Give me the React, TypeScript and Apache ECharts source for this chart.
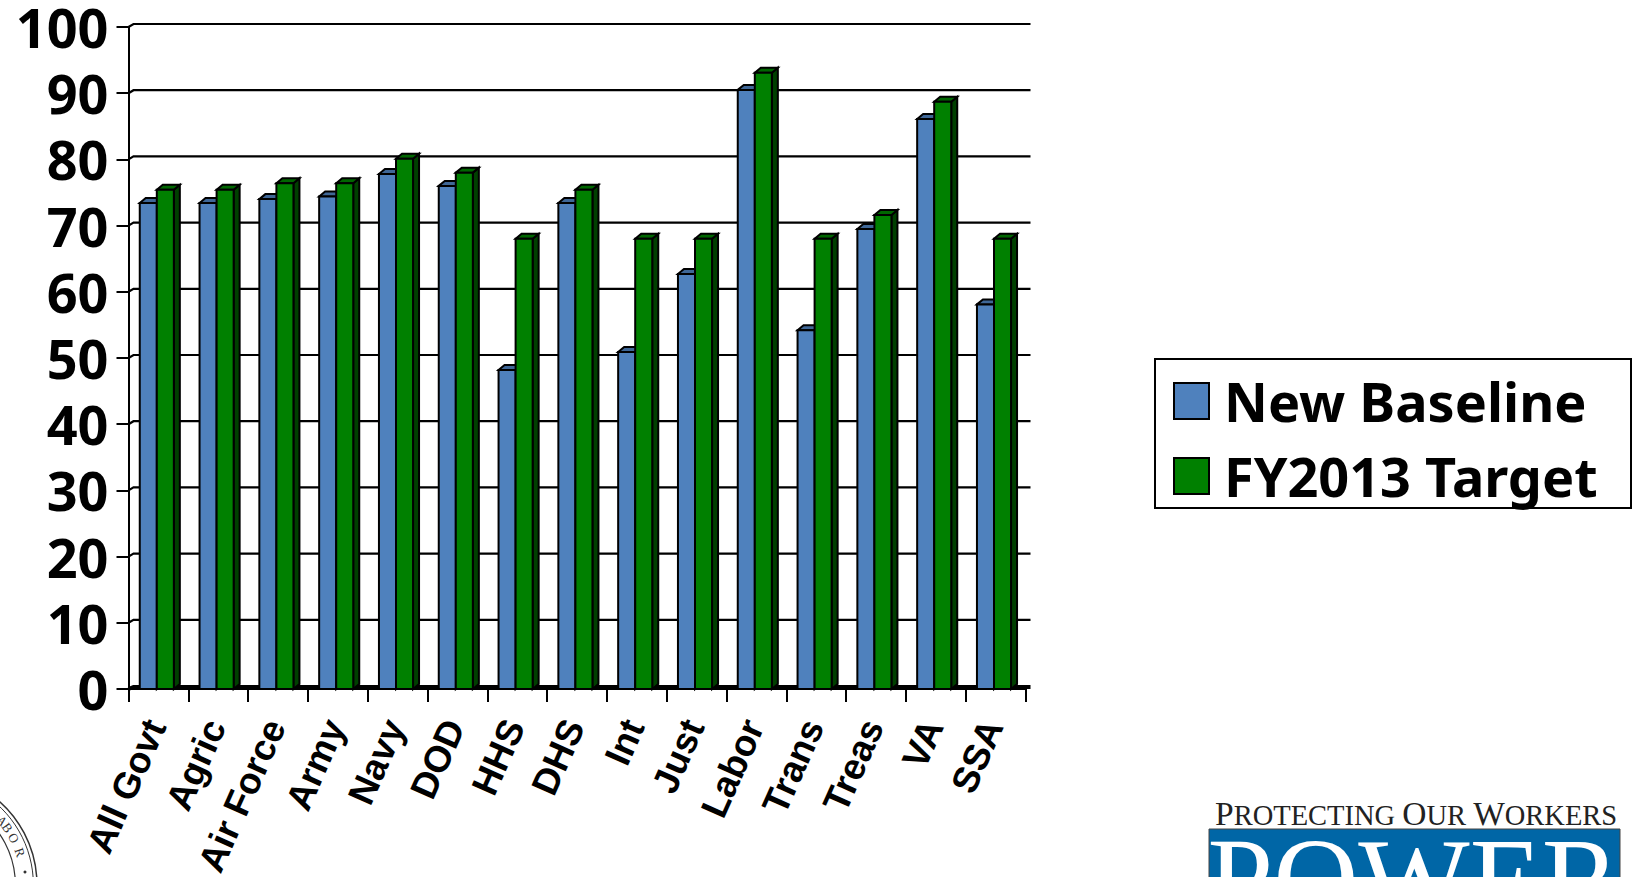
import React, { useEffect, useRef } from "react";
import * as echarts from "echarts";

const categories = ["All Govt", "Agric", "Air Force", "Army", "Navy", "DOD", "HHS", "DHS", "Int", "Just", "Labor", "Trans", "Treas", "VA", "SSA"];
const newBaseline = [73.4, 73.4, 74, 74.4, 77.8, 76, 48.2, 73.4, 50.9, 62.7, 90.5, 54.2, 69.5, 86.1, 58.1];
const fy2013Target = [75.4, 75.4, 76.4, 76.4, 80.1, 78, 68, 75.4, 68, 68, 93.1, 68, 71.6, 88.7, 68];
const gridValues = [0, 10, 20, 30, 40, 50, 60, 70, 80, 90, 100];
const sealLetters = [["A", 40], ["B", 35], ["O", 28], ["R", 19]] as [string, number][];

const BLUE = "#4f81bd";
const GREEN = "#008000";
const DEPTH_X = 6;
const DEPTH_Y = 5;
const WALL_X = 5;
const WALL_Y = 3;
const SEAL_X = -74.6;
const SEAL_Y = 885;

function shade(hex: string, f: number) {
  const n = parseInt(hex.slice(1), 16);
  const c = [(n >> 16) & 255, (n >> 8) & 255, n & 255].map((v) => Math.round(v * f));
  return `rgb(${c[0]},${c[1]},${c[2]})`;
}

// A bar with a lit top face and a darkened side face, placed by the chart's own scales.
function barRenderer(slot: number, color: string) {
  return (_: any, api: any) => {
    const top = api.coord([api.value(0), api.value(1)]);
    const base = api.coord([api.value(0), 0]);
    const band = api.size([1, 0])[0];
    const w = band * 0.285;
    const x0 = top[0] - w + slot * w - 1.6;
    const x1 = x0 + w;
    const line = { stroke: "#000", lineWidth: 2 };
    return {
      type: "group",
      children: [
        { type: "polygon", shape: { points: [[x1, top[1]], [x1 + DEPTH_X, top[1] - DEPTH_Y], [x1 + DEPTH_X, base[1] - DEPTH_Y], [x1, base[1]]] }, style: { fill: shade(color, 0.5), ...line } },
        { type: "polygon", shape: { points: [[x0, top[1]], [x0 + DEPTH_X, top[1] - DEPTH_Y], [x1 + DEPTH_X, top[1] - DEPTH_Y], [x1, top[1]]] }, style: { fill: shade(color, 0.8), ...line } },
        { type: "rect", shape: { x: x0, y: top[1], width: w, height: base[1] - top[1] }, style: { fill: color, ...line } },
      ],
    };
  };
}

// Back-wall gridlines, stepped up and to the right of the axis ticks; the floor is heavier.
function wallLine(params: any, api: any) {
  const p = api.coord([0, api.value(1)]);
  const cs = params.coordSys;
  const left = cs.x;
  const right = cs.x + cs.width + WALL_X;
  const isFloor = api.value(1) === 0;
  const rise = isFloor ? 2 : WALL_Y;
  return {
    type: "polyline",
    shape: { points: [[left, p[1]], [left + WALL_X, p[1] - rise], [right, p[1] - rise]] },
    style: { stroke: "#000", lineWidth: isFloor ? 4 : 2.2, fill: "none" },
  };
}

const FONT = "'Noto Sans'";

export default function App() {
  const ref = useRef<HTMLDivElement>(null);
  useEffect(() => {
    const chart = echarts.init(ref.current!, undefined, { renderer: "svg" });
    const sealText = sealLetters.map(([ch, deg]) => {
      const a = (deg * Math.PI) / 180;
      return {
        type: "text",
        x: SEAL_X + 100 * Math.cos(a),
        y: SEAL_Y - 100 * Math.sin(a),
        rotation: -((90 - deg) * Math.PI) / 180,
        style: { text: ch, fill: "#333", align: "center", verticalAlign: "middle", font: "13px 'Liberation Serif'" },
      };
    });
    chart.setOption({
      animation: false,
      backgroundColor: "#fff",
      grid: { left: 128.5, top: 27, width: 897, height: 662, containLabel: false, outerBoundsMode: "none" },
      xAxis: {
        type: "category",
        data: categories,
        axisLine: { lineStyle: { color: "#000", width: 2 } },
        axisTick: { show: true, length: 13, lineStyle: { color: "#000", width: 2 } },
        axisLabel: { rotate: 66, interval: 0, margin: 26, padding: [0, 7, 0, 0], color: "#000", fontFamily: "'Liberation Sans'", fontWeight: "bold", fontSize: 37 },
      },
      yAxis: {
        type: "value",
        min: 0,
        max: 100,
        interval: 10,
        splitLine: { show: false },
        axisLine: { show: true, lineStyle: { color: "#000", width: 2 } },
        axisTick: { show: true, length: 12, lineStyle: { color: "#000", width: 2 } },
        axisLabel: { margin: 20, color: "#000", fontFamily: FONT, fontWeight: "bold", fontSize: 54 },
      },
      legend: {
        left: 1155,
        top: 359,
        orient: "vertical",
        data: ["New Baseline", "FY2013 Target"],
        padding: [15, 8, 6, 18],
        itemGap: 21,
        itemWidth: 35,
        itemHeight: 36,
        icon: "rect",
        itemStyle: { borderColor: "#000", borderWidth: 2 },
        textStyle: { color: "#000", fontFamily: FONT, fontWeight: "bold", fontSize: 54, padding: [0, 0, 0, 10] },
      },
      graphic: [
        { type: "rect", shape: { x: 1155, y: 359, width: 476, height: 149 }, style: { fill: "none", stroke: "#000", lineWidth: 2 } },
        {
          type: "text",
          x: 1215,
          y: 797,
          style: {
            text: "{a|P}{b|ROTECTING }{a|O}{b|UR }{a|W}{b|ORKERS}",
            fill: "#222",
            rich: {
              a: { fontFamily: "'Liberation Serif'", fontSize: 33.5, verticalAlign: "bottom", lineHeight: 33, fill: "#222" },
              b: { fontFamily: "'Liberation Serif'", fontSize: 28.5, verticalAlign: "bottom", lineHeight: 33, fill: "#222" },
            },
          },
        },
        { type: "rect", shape: { x: 1209, y: 829, width: 411, height: 60 }, style: { fill: "#0066a6", stroke: "#444", lineWidth: 1 } },
        { type: "text", x: 1414, y: 835, style: { text: "POWER", fill: "#fff", align: "center", lineHeight: 90, font: "118px 'Liberation Serif'", shadowBlur: 8, shadowColor: "#00335a", shadowOffsetX: 3, shadowOffsetY: 3 } },
        { type: "circle", shape: { cx: SEAL_X, cy: SEAL_Y, r: 111.6 }, style: { fill: "none", stroke: "#333", lineWidth: 1.5 } },
        { type: "circle", shape: { cx: SEAL_X, cy: SEAL_Y, r: 108 }, style: { fill: "none", stroke: "#333", lineWidth: 1 } },
        { type: "circle", shape: { cx: SEAL_X, cy: SEAL_Y, r: 90 }, style: { fill: "none", stroke: "#333", lineWidth: 1.2 } },
        { type: "circle", shape: { cx: 25, cy: 872, r: 1.5 }, style: { fill: "#333" } },
        ...sealText,
      ],
      series: [
        { type: "custom", silent: true, z: 1, data: gridValues.map((v) => [0, v]), encode: { x: 0, y: 1 }, renderItem: wallLine },
        { type: "custom", name: "New Baseline", z: 2, itemStyle: { color: BLUE }, data: newBaseline.map((v, i) => [i, v]), encode: { x: 0, y: 1 }, renderItem: barRenderer(0, BLUE) },
        { type: "custom", name: "FY2013 Target", z: 3, itemStyle: { color: GREEN }, data: fy2013Target.map((v, i) => [i, v]), encode: { x: 0, y: 1 }, renderItem: barRenderer(1, GREEN) },
      ],
    });
    return () => chart.dispose();
  }, []);
  return <div ref={ref} style={{ position: "fixed", left: 0, top: 0, width: 1639, height: 877 }} />;
}
